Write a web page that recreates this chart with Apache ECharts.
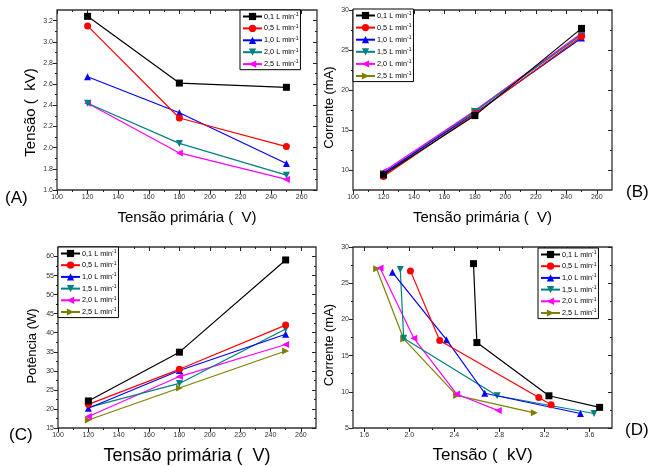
<!DOCTYPE html>
<html><head><meta charset="utf-8">
<script src="https://cdn.jsdelivr.net/npm/echarts@6/dist/echarts.min.js"></script>
<style>html,body{margin:0;padding:0;background:#fff}#c{width:651px;height:466px}</style>
</head><body><div id="c"></div><script>
// ---------- data ----------
const primaryV = [120, 180, 250];
const flowsA = ['0,1', '0,5', '1,0', '2,0', '2,5'];
const flowsBCD = ['0,1', '0,5', '1,0', '1,5', '2,0', '2,5'];
// (A) Tensão (kV) vs primary voltage
const aKV = [
  [3.24, 2.61, 2.57],
  [3.15, 2.28, 2.01],
  [2.67, 2.33, 1.85],
  [2.42, 2.04, 1.74],
  [2.42, 1.95, 1.70]
];
// (B) Corrente (mA) vs primary voltage
const bMA = [
  [9.4, 16.8, 27.7],
  [9.2, 17.0, 26.7],
  [9.6, 17.1, 26.5],
  [9.4, 17.3, 26.9],
  [9.8, 17.4, 27.1],
  [9.6, 17.4, 27.0]
];
// (C) Potência (W) vs primary voltage
const cW = [
  [22.1, 34.9, 59.1],
  [21.2, 30.4, 42.0],
  [20.2, 30.1, 39.6],
  [20.4, 26.7, 41.0],
  [18.0, 28.5, 36.9],
  [17.1, 25.5, 35.2]
];
// (D) Corrente (mA) vs Tensão (kV)
const dKV = [
  [2.57, 2.60, 3.24, 3.69],
  [2.01, 2.27, 3.15, 3.26],
  [1.85, 2.33, 2.67, 3.52],
  [1.92, 1.95, 2.78, 3.64],
  [1.74, 2.04, 2.42, 2.79],
  [1.71, 1.95, 2.42, 3.11]
];
const dMA = [
  [27.7, 16.8, 9.45, 7.85],
  [26.7, 17.1, 9.2, 8.2],
  [26.5, 17.2, 9.8, 7.0],
  [26.9, 17.4, 9.45, 7.0],
  [27.1, 17.4, 9.7, 7.4],
  [27.0, 17.3, 9.5, 7.1]
];
// tick labels
const xPrimTicks = [100, 120, 140, 160, 180, 200, 220, 240, 260];
const aYTicks = [1.6, 1.8, 2.0, 2.2, 2.4, 2.6, 2.8, 3.0, 3.2];
const bYTicks = [10, 15, 20, 25, 30];
const cYTicks = [15, 20, 25, 30, 35, 40, 45, 50, 55, 60];
const dXTicks = [1.6, 2.0, 2.4, 2.8, 3.2, 3.6];
const dYTicks = [5, 10, 15, 20, 25, 30];

// ---------- styles ----------
const FONT = 'Liberation Sans, Arial, sans-serif';
const colA = ['#000000', '#ff0000', '#0000ff', '#008080', '#ff00ff'];
const symA = [['rect', 0], ['circle', 0], ['triangle', 0], ['triangle', 180], ['triangle', 90]];
const colB = ['#000000', '#ff0000', '#0000ff', '#008080', '#ff00ff', '#808000'];
const symB = [['rect', 0], ['circle', 0], ['triangle', 0], ['triangle', 180], ['triangle', 90], ['triangle', -90]];

const grids = [
  {left: 57, top: 10, width: 260, height: 180},
  {left: 353, top: 10, width: 259, height: 180},
  {left: 58, top: 247, width: 258, height: 181},
  {left: 353, top: 247, width: 259, height: 181}
];

const xAxes = [], yAxes = [], series = [], legends = [];

function minors(ticks, min, max) {
  const s = ticks[1] - ticks[0];
  const out = [];
  for (let i = -1; i < ticks.length; i++) {
    const v = (i < 0 ? ticks[0] - s / 2 : ticks[i] + s / 2);
    if (v > min + 1e-9 && v < max - 1e-9) out.push(+v.toFixed(4));
  }
  return out;
}

function addAxes(gi, kind, range, ticks, fmt, name, nameSize, nameGap, namePad) {
  const arr = kind === 'x' ? xAxes : yAxes;
  const mainPos = kind === 'x' ? 'bottom' : 'left';
  const mirPos = kind === 'x' ? 'top' : 'right';
  const mi = minors(ticks, range[0], range[1]);
  const base = {gridIndex: gi, type: 'value', min: range[0], max: range[1], splitLine: {show: false}, axisLine: {show: false}, offset: 0};
  const mainIdx = arr.length;
  arr.push(Object.assign({}, base, {
    position: mainPos,
    axisTick: {show: true, inside: false, length: 4, customValues: ticks, lineStyle: {color: '#222', width: 1}},
    axisLabel: {show: true, customValues: ticks, formatter: fmt, fontSize: 7, color: '#333', fontFamily: FONT, margin: 4},
    name: name, nameLocation: 'middle', nameGap: nameGap,
    nameTextStyle: {fontSize: nameSize, fontFamily: FONT, color: '#000', padding: namePad}
  }));
  arr.push(Object.assign({}, base, {
    position: mainPos,
    axisTick: {show: true, inside: false, length: 2, customValues: mi, lineStyle: {color: '#222', width: 1}},
    axisLabel: {show: false}
  }));
  arr.push(Object.assign({}, base, {
    position: mirPos,
    axisTick: {show: true, inside: true, length: 4, customValues: ticks, lineStyle: {color: '#222', width: 1}},
    axisLabel: {show: false}
  }));
  arr.push(Object.assign({}, base, {
    position: mirPos,
    axisTick: {show: true, inside: true, length: 2, customValues: mi, lineStyle: {color: '#222', width: 1}},
    axisLabel: {show: false}
  }));
  return mainIdx;
}

const f1 = v => v.toFixed(1);
const f0 = v => String(Math.round(v));

const axA = [addAxes(0, 'x', [100, 270], xPrimTicks, f0, 'Tensão primária (  V)', 15, 20, 0),
             addAxes(0, 'y', [1.6, 3.3], aYTicks, f1, 'Tensão (  kV)', 15, 19, [0, 25, 0, 0])];
const axB = [addAxes(1, 'x', [100, 270], xPrimTicks, f0, 'Tensão primária (  V)', 15, 20, 0),
             addAxes(1, 'y', [7.5, 30], bYTicks, f0, 'Corrente (mA)', 13, 17, [0, 15, 0, 0])];
const axC = [addAxes(2, 'x', [100, 270], xPrimTicks, f0, 'Tensão primária (  V)', 18, 19, 0),
             addAxes(2, 'y', [15, 62.5], cYTicks, f0, 'Potência (W)', 13, 19, [0, 17, 0, 0])];
const axD = [addAxes(3, 'x', [1.5, 3.8], dXTicks, f1, 'Tensão (  kV)', 17, 19, 0),
             addAxes(3, 'y', [5, 30], dYTicks, f0, 'Corrente (mA)', 13, 17, [0, 15, 0, 0])];

function addSeries(panel, ax, flows, cols, syms, getData) {
  const names = [];
  flows.forEach((f, i) => {
    const nm = panel + '|' + f;
    names.push(nm);
    series.push({
      type: 'line', name: nm, xAxisIndex: ax[0], yAxisIndex: ax[1],
      data: getData(i),
      symbol: syms[i][0], symbolRotate: syms[i][1], symbolSize: 7,
      itemStyle: {color: cols[i]}, lineStyle: {color: cols[i], width: 1.2},
      animation: false, z: 10 - i, clip: false
    });
  });
  return names;
}

const nA = addSeries('A', axA, flowsA, colA, symA, i => primaryV.map((x, j) => [x, aKV[i][j]]));
const nB = addSeries('B', axB, flowsBCD, colB, symB, i => primaryV.map((x, j) => [x, bMA[i][j]]));
const nC = addSeries('C', axC, flowsBCD, colB, symB, i => primaryV.map((x, j) => [x, cW[i][j]]));
const nD = addSeries('D', axD, flowsBCD, colB, symB, i => dKV[i].map((x, j) => [x, dMA[i][j]]));

function legend(names, left, top, gap) {
  return {
    data: names, left: left, top: top, orient: 'vertical',
    itemWidth: 19, itemHeight: 9, itemGap: gap,
    padding: [2, 2, 2, 2], borderColor: '#000', borderWidth: 1, backgroundColor: '#fff',
    selectedMode: false,
    formatter: n => '{t|' + n.split('|')[1] + ' L min}{s|-1}',
    textStyle: {fontFamily: FONT, fontSize: 7.3, color: '#000', padding: [0, 0, 0, -3],
      rich: {t: {fontSize: 7.3, fontFamily: FONT, color: '#000'},
             s: {fontSize: 5, fontFamily: FONT, color: '#000', verticalAlign: 'top', padding: [0, 0, 4, 0]}}}
  };
}
legends.push(legend(nA, 240, 10, 3.8));
legends.push(legend(nB, 353, 9, 4));
legends.push(legend(nC, 58, 247, 3.6));
legends.push(legend(nD, 538, 248, 3.6));

const labels = [['(A)', 5, 190], ['(B)', 626, 184], ['(C)', 9, 427], ['(D)', 625, 422]];

const chart = echarts.init(document.getElementById('c'), null, {renderer: 'canvas'});
chart.setOption({
  animation: false,
  backgroundColor: '#fff',
  grid: grids.map(g => Object.assign({show: true, borderColor: '#333', borderWidth: 1.3, backgroundColor: 'transparent'}, g)),
  xAxis: xAxes, yAxis: yAxes, series: series, legend: legends,
  graphic: labels.map(l => ({type: 'text', left: l[1], top: l[2], style: {text: l[0], fontSize: 17, fontFamily: FONT, fill: '#000'}}))
});
</script></body></html>
